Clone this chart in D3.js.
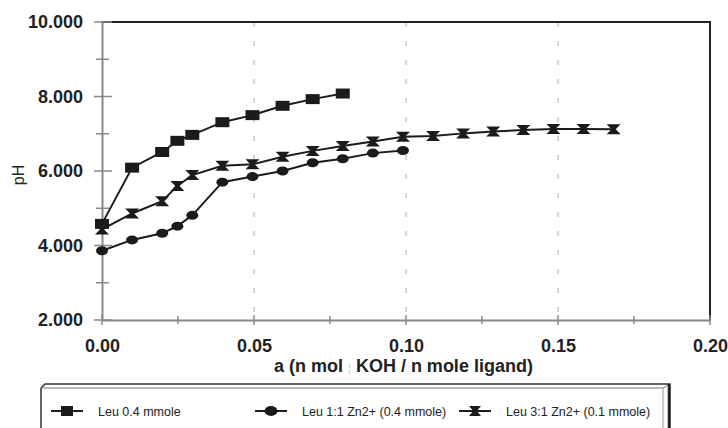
<!DOCTYPE html>
<html>
<head>
<meta charset="utf-8">
<script src="https://cdnjs.cloudflare.com/ajax/libs/d3/7.8.5/d3.min.js"></script>
<style>
  html, body { margin: 0; padding: 0; background: #fff; }
  svg { display: block; font-family: "Liberation Sans", Arial, sans-serif; }
</style>
</head>
<body>
<svg id="chart" width="728" height="428"></svg>
<script>
// values
const squareX = [0, 0.0099, 0.0198, 0.0248, 0.0297, 0.0396, 0.0495, 0.0594, 0.0693, 0.0792];
const squarePH = [4.58, 6.09, 6.51, 6.81, 6.97, 7.31, 7.50, 7.75, 7.93, 8.08];

const circleX = [0, 0.0099, 0.0198, 0.0248, 0.0297, 0.0396, 0.0495, 0.0594, 0.0693, 0.0792, 0.0891, 0.099];
const circlePH = [3.86, 4.15, 4.33, 4.52, 4.81, 5.70, 5.85, 6.00, 6.22, 6.33, 6.48, 6.55];

const bowX = [0, 0.0099, 0.0198, 0.0248, 0.0297, 0.0396, 0.0495, 0.0594, 0.0693, 0.0792, 0.0891, 0.099,
  0.1089, 0.1188, 0.1287, 0.1386, 0.1485, 0.1584, 0.1683];
const bowPH = [4.43, 4.86, 5.19, 5.60, 5.89, 6.14, 6.18, 6.38, 6.54, 6.67, 6.79, 6.92,
  6.94, 7.01, 7.06, 7.10, 7.13, 7.13, 7.12];

const seriesNames = ["Leu 0.4 mmole", "Leu 1:1 Zn2+ (0.4 mmole)", "Leu 3:1 Zn2+ (0.1 mmole)"];
const yTicks = [2, 4, 6, 8, 10];
const yMinor = [3, 5, 7, 9];
const xTicks = [0, 0.05, 0.10, 0.15, 0.20];
const xMinor = [0.025, 0.075, 0.125, 0.175];
const xTitle = ["a (n mol", "KOH / n mole ligand)"];
const yTitle = "pH";

const ink = "#1b1b1b";

function shapePath(kind, w, h) {
  const a = w / 2, b = h / 2;
  if (kind === "square") return `M${-a},${-b}H${a}V${b}H${-a}Z`;
  if (kind === "bow") return `M${-a},${-b}H${a}L${a * 0.3},0L${a},${b}H${-a}L${-a * 0.3},0Z`;
  return null;
}

function drawMarker(g, kind, x, y, w, h) {
  if (kind === "circle") {
    g.append("ellipse").attr("cx", x).attr("cy", y).attr("rx", w / 2).attr("ry", h / 2).attr("fill", ink);
  } else {
    g.append("path").attr("d", shapePath(kind, w, h))
      .attr("transform", `translate(${x},${y})`).attr("fill", ink);
  }
}

function main() {
  const svg = d3.select("#chart");
  const x = d3.scaleLinear().domain([0, 0.2]).range([102, 710]);
  const y = d3.scaleLinear().domain([2, 10]).range([320, 22]);

  // vertical dashed grid
  svg.append("g").selectAll("line")
    .data(xTicks.filter(d => d > 0 && d < 0.2))
    .join("line")
      .attr("x1", d => x(d)).attr("x2", d => x(d))
      .attr("y1", y(10)).attr("y2", y(2))
      .attr("stroke", "#aaa").attr("stroke-width", 1)
      .attr("stroke-dasharray", "5,14");

  // plot frame top/right
  svg.append("path")
    .attr("d", `M${x(0)},${y(10)}H${x(0.2)}V${y(2)}`)
    .attr("fill", "none").attr("stroke", "#222").attr("stroke-width", 2);

  // axes
  const yAxis = d3.axisLeft(y).tickValues(yTicks).tickSize(0).tickPadding(19)
    .tickFormat(d3.format(".3f"));
  const gy = svg.append("g").attr("transform", `translate(${x(0)},0)`).call(yAxis);
  gy.select(".domain").attr("stroke", "#888").attr("stroke-width", 2);
  gy.selectAll("text").attr("font-size", 18).attr("font-weight", "bold").attr("fill", "#222");

  const xAxis = d3.axisBottom(x).tickValues(xTicks).tickSize(0).tickPadding(19)
    .tickFormat(d3.format(".2f"));
  const gx = svg.append("g").attr("transform", `translate(0,${y(2)})`).call(xAxis);
  gx.select(".domain").attr("stroke", "#888").attr("stroke-width", 2);
  gx.selectAll("text").attr("font-size", 18).attr("font-weight", "bold").attr("fill", "#222");

  // crossing tick marks
  const tickG = svg.append("g").attr("stroke", "#888").attr("stroke-width", 1.5);
  tickG.selectAll(".ym").data(yTicks).join("line")
    .attr("x1", x(0) - 8).attr("x2", x(0) + 10).attr("y1", d => y(d)).attr("y2", d => y(d));
  tickG.selectAll(".yn").data(yMinor).join("line")
    .attr("x1", x(0) - 6).attr("x2", x(0) + 7).attr("y1", d => y(d)).attr("y2", d => y(d));
  tickG.selectAll(".xm").data(xTicks).join("line")
    .attr("x1", d => x(d)).attr("x2", d => x(d)).attr("y1", y(2) - 5).attr("y2", y(2) + 5);
  tickG.selectAll(".xn").data(xMinor).join("line")
    .attr("x1", d => x(d)).attr("x2", d => x(d)).attr("y1", y(2) - 4).attr("y2", y(2) + 4);

  // titles
  const xt = svg.append("text").attr("x", 274).attr("y", 372)
    .attr("font-size", 18).attr("font-weight", "bold").attr("fill", "#222");
  xt.append("tspan").text(xTitle[0] + " ");
  xt.append("tspan").attr("fill", "#c8c8c8").attr("font-size", 11).attr("font-weight", "normal").text("¦");
  xt.append("tspan").text(" " + xTitle[1]);

  svg.append("text").attr("transform", "translate(24,175) rotate(-90)")
    .attr("text-anchor", "middle").attr("font-size", 16).attr("fill", "#222").text(yTitle);

  // series
  const series = [
    { kind: "square", xs: squareX, ys: squarePH },
    { kind: "circle", xs: circleX, ys: circlePH },
    { kind: "bow", xs: bowX, ys: bowPH }
  ];
  const line = d3.line().x(d => x(d[0])).y(d => y(d[1]));
  series.forEach(s => {
    const pts = s.xs.map((v, i) => [v, s.ys[i]]);
    const g = svg.append("g");
    g.append("path").attr("d", line(pts)).attr("fill", "none")
      .attr("stroke", ink).attr("stroke-width", 2);
    const w = s.kind === "circle" ? 12 : 14;
    const h = s.kind === "circle" ? 9 : 10;
    pts.forEach(p => drawMarker(g, s.kind, x(p[0]), y(p[1]), w, h));
  });

  // legend box (3d style)
  const lg = svg.append("g");
  lg.append("path")
    .attr("d", "M41,440V388L45,384H670V440")
    .attr("fill", "#fff").attr("stroke", "#333").attr("stroke-width", 1.5);
  lg.append("path").attr("d", "M41,388H663L670,384").attr("fill", "none")
    .attr("stroke", "#777").attr("stroke-width", 1);
  lg.append("path").attr("d", "M663,388V440").attr("fill", "none")
    .attr("stroke", "#999").attr("stroke-width", 1);
  lg.append("path").attr("d", "M669,384V440").attr("fill", "none")
    .attr("stroke", "#222").attr("stroke-width", 2.5);

  const legendX = [51, 255, 459];
  series.forEach((s, i) => {
    const lx = legendX[i], ly = 411;
    lg.append("line").attr("x1", lx).attr("x2", lx + 32).attr("y1", ly).attr("y2", ly)
      .attr("stroke", ink).attr("stroke-width", 2);
    drawMarker(lg, s.kind, lx + 16, ly, s.kind === "circle" ? 13 : 12, 10);
    lg.append("text").attr("x", lx + 47).attr("y", ly + 4.5)
      .attr("font-size", 12.5).attr("fill", "#222").text(seriesNames[i]);
  });
}

window.onload = main;
</script>
</body>
</html>
